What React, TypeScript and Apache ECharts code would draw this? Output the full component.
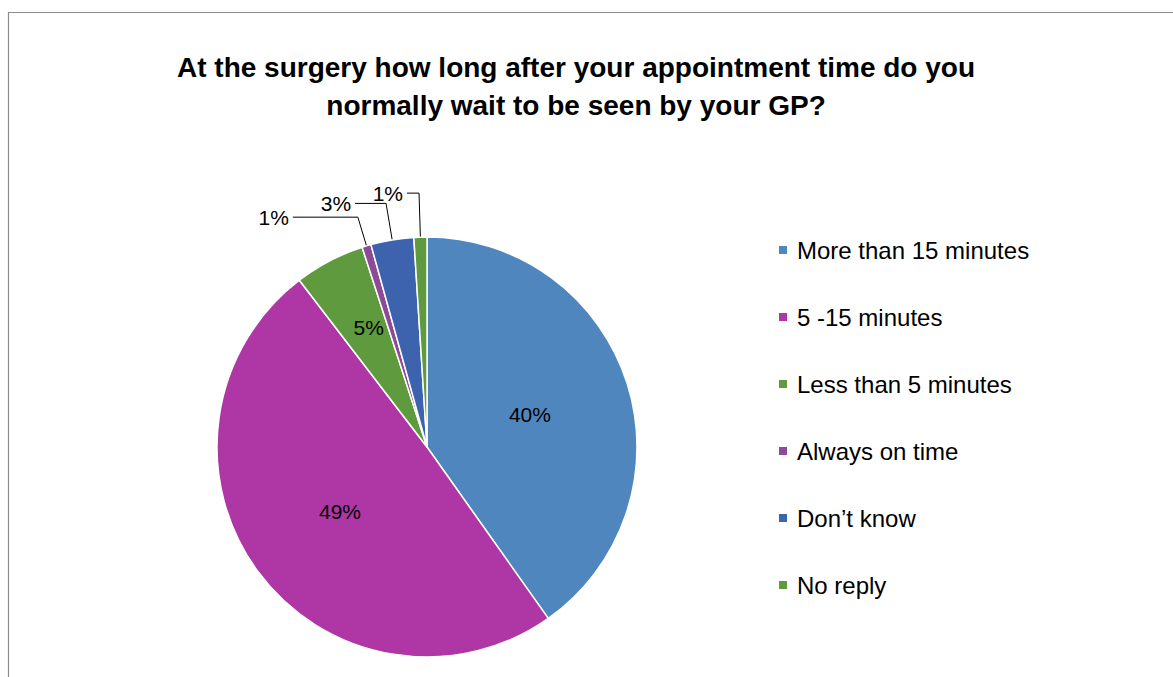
import React, { useEffect, useRef } from "react";
import * as echarts from "echarts";

const titleText = "At the surgery how long after your appointment time do you\nnormally wait to be seen by your GP?";
const categories = [
  "More than 15 minutes",
  "5 -15 minutes",
  "Less than 5 minutes",
  "Always on time",
  "Don\u2019t know",
  "No reply",
];
const values = [40.2, 49.4, 5.4, 0.7, 3.3, 1.0];
const colors = ["#4F86BE", "#AE37A5", "#5F9A3F", "#8B4B97", "#3D62AE", "#5F9A3F"];

const FONT = "'Liberation Sans', Arial, sans-serif";

export default function App() {
  const ref = useRef<HTMLDivElement>(null);
  useEffect(() => {
    if (!ref.current) return;
    const chart = echarts.init(ref.current, undefined, { renderer: "svg" });
    const total = values.reduce((a, b) => a + b, 0);
    const fmt = (p: any) => Math.round((p.value / total) * 100) + "%";
    const labelCfg = [
      { position: "inside" },
      { position: "inside" },
      { position: "inside", offset: [-8, -24] },
      { position: "outside" },
      { position: "outside" },
      { position: "outside" },
    ];
    const lineCfg = [
      null,
      null,
      null,
      { length: 30, length2: 65 },
      { length: 37, length2: 31 },
      { length: 44, length2: 12 },
    ];
    const data = categories.map((name, i) => {
      const item: any = {
        name,
        value: values[i],
        itemStyle: { color: colors[i] },
        label: { ...labelCfg[i] },
      };
      if (lineCfg[i]) {
        item.labelLine = { show: true, ...lineCfg[i], lineStyle: { color: "#000", width: 1 } };
      } else {
        item.labelLine = { show: false };
      }
      return item;
    });
    chart.setOption({
      animation: false,
      backgroundColor: "#fff",
      title: {
        text: titleText,
        left: 571,
        top: 43,
        textAlign: "center",
        textStyle: {
          fontFamily: FONT,
          fontWeight: "bold",
          fontSize: 28,
          lineHeight: 38,
          color: "#000",
        },
      },
      legend: {
        orient: "vertical",
        left: 772,
        top: 232,
        icon: "rect",
        itemWidth: 10,
        itemHeight: 10,
        itemGap: 41,
        data: categories,
        textStyle: {
          fontFamily: FONT,
          fontSize: 24,
          lineHeight: 26,
          color: "#000",
          padding: [0, 0, 0, 4],
        },
      },
      graphic: [
        {
          type: "polyline",
          shape: { points: [[8.5, 677], [8.5, 12.5], [1173, 12.5]] },
          style: { stroke: "#8c8c8c", lineWidth: 1.2, fill: "none" },
          silent: true,
        },
      ],
      series: [
        {
          type: "pie",
          center: [427, 447],
          radius: 210,
          startAngle: 90,
          clockwise: true,
          avoidLabelOverlap: false,
          itemStyle: { borderColor: "#fff", borderWidth: 1.5 },
          label: {
            show: true,
            formatter: fmt,
            fontFamily: FONT,
            fontSize: 21,
            color: "#000",
            distanceToLabelLine: 4,
          },
          emphasis: { disabled: true },
          data,
        },
      ],
    });
    return () => chart.dispose();
  }, []);
  return (
    <div
      ref={ref}
      style={{ position: "absolute", left: 0, top: 0, width: 1173, height: 677 }}
    />
  );
}
